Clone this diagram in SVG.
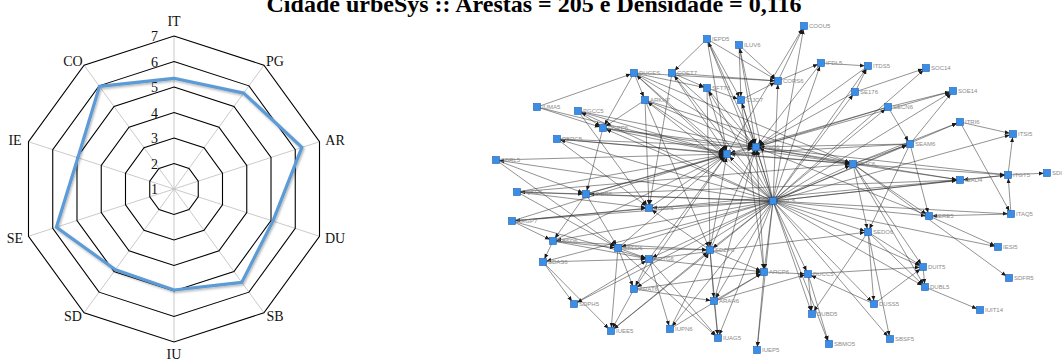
<svg xmlns="http://www.w3.org/2000/svg" width="1062" height="360" viewBox="0 0 1062 360">
<style>
  .ring{fill:none;stroke:#000;stroke-width:1.1}
  .spoke{stroke:#c4c4c4;stroke-width:0.9}
  .ax{font-family:"Liberation Serif",serif;font-size:14px;fill:#111;text-anchor:middle}
  .tick{font-family:"Liberation Serif",serif;font-size:14px;fill:#111;text-anchor:end}
  .title{font-family:"Liberation Serif",serif;font-size:24px;font-weight:bold;fill:#000;text-anchor:middle}
  .edges line{stroke:#2a2a2a;stroke-width:0.6;stroke-opacity:0.85;marker-end:url(#ah)}
  .node rect{fill:#3a8ee8;stroke:#1d5fae;stroke-width:0.6}
  .node text{font-family:"Liberation Sans",Arial,sans-serif;font-size:6px;fill:#8a8a8a}
</style>
<defs>
  <marker id="ah" viewBox="0 0 6 6" markerWidth="5" markerHeight="5" refX="10" refY="3" orient="auto" markerUnits="userSpaceOnUse">
    <path d="M0,0.5 L6,3 L0,5.5 z" fill="#1a1a1a"/>
  </marker>
  <filter id="sh" x="-10%" y="-10%" width="120%" height="120%">
    <feDropShadow dx="1" dy="1.5" stdDeviation="1" flood-color="#000" flood-opacity="0.3"/>
  </filter>
</defs>
<rect width="1062" height="360" fill="#fff"/>

<text class="title" x="534" y="12">Cidade urbeSys :: Arestas = 205 e Densidade = 0,116</text>

<!-- radar chart: 10 axes, scale 1..7 -->
<g id="radar">
  <g id="spokes">
    <line class="spoke" x1="174" y1="189" x2="174" y2="36"/>
    <line class="spoke" x1="174" y1="189" x2="263.93" y2="65.22"/>
    <line class="spoke" x1="174" y1="189" x2="319.51" y2="141.72"/>
    <line class="spoke" x1="174" y1="189" x2="319.51" y2="236.28"/>
    <line class="spoke" x1="174" y1="189" x2="263.93" y2="312.78"/>
    <line class="spoke" x1="174" y1="189" x2="174" y2="342"/>
    <line class="spoke" x1="174" y1="189" x2="84.07" y2="312.78"/>
    <line class="spoke" x1="174" y1="189" x2="28.49" y2="236.28"/>
    <line class="spoke" x1="174" y1="189" x2="28.49" y2="141.72"/>
    <line class="spoke" x1="174" y1="189" x2="84.07" y2="65.22"/>
  </g>
  <g id="rings">
    <polygon class="ring" points="174,163.5 188.99,168.37 198.25,181.12 198.25,196.88 188.99,209.63 174,214.5 159.01,209.63 149.75,196.88 149.75,181.12 159.01,168.37"/>
    <polygon class="ring" points="174,138 203.98,147.74 222.5,173.24 222.5,204.76 203.98,230.26 174,240 144.02,230.26 125.5,204.76 125.5,173.24 144.02,147.74"/>
    <polygon class="ring" points="174,112.5 218.97,127.11 246.76,165.36 246.76,212.64 218.97,250.89 174,265.5 129.03,250.89 101.24,212.64 101.24,165.36 129.03,127.11"/>
    <polygon class="ring" points="174,87 233.95,106.48 271.01,157.48 271.01,220.52 233.95,271.52 174,291 114.05,271.52 76.99,220.52 76.99,157.48 114.05,106.48"/>
    <polygon class="ring" points="174,61.5 248.94,85.85 295.26,149.6 295.26,228.4 248.94,292.15 174,316.5 99.06,292.15 52.74,228.4 52.74,149.6 99.06,85.85"/>
    <polygon class="ring" points="174,36 263.93,65.22 319.51,141.72 319.51,236.28 263.93,312.78 174,342 84.07,312.78 28.49,236.28 28.49,141.72 84.07,65.22"/>
  </g>
  <g id="ticks">
    <text class="tick" x="158" y="41">7</text>
    <text class="tick" x="158" y="66.5">6</text>
    <text class="tick" x="158" y="92">5</text>
    <text class="tick" x="158" y="117.5">4</text>
    <text class="tick" x="158" y="143">3</text>
    <text class="tick" x="158" y="168.5">2</text>
    <text class="tick" x="158" y="194">1</text>
  </g>
  <polygon id="serie" filter="url(#sh)" fill="none" stroke="#5b9bd5" stroke-width="3.2" stroke-linejoin="round"
    points="174,78.3 243.7,93.1 301.9,147.4 272.9,221.1 241.8,282.4 174,290 115.4,269.7 56.4,227.2 77.9,157.8 99.5,86.4"/>
  <g id="axis-labels">
    <text class="ax" x="174" y="25.5">IT</text>
    <text class="ax" x="275" y="66">PG</text>
    <text class="ax" x="335" y="144.5">AR</text>
    <text class="ax" x="335" y="242.5">DU</text>
    <text class="ax" x="275" y="320.7">SB</text>
    <text class="ax" x="174" y="358.5">IU</text>
    <text class="ax" x="73" y="320.7">SD</text>
    <text class="ax" x="15" y="242.5">SE</text>
    <text class="ax" x="15" y="144.5">IE</text>
    <text class="ax" x="73" y="66">CO</text>
  </g>
</g>

<!-- network -->
<g id="connectors" class="edges">
  <!-- hub ITHC5 -->
  <line x1="773" y1="201" x2="804" y2="26"/>
  <line x1="773" y1="201" x2="707" y2="39"/>
  <line x1="773" y1="201" x2="739" y2="45"/>
  <line x1="773" y1="201" x2="821" y2="63"/>
  <line x1="773" y1="201" x2="868" y2="66"/>
  <line x1="773" y1="201" x2="926" y2="68"/>
  <line x1="773" y1="201" x2="634" y2="73"/>
  <line x1="773" y1="201" x2="672" y2="73"/>
  <line x1="773" y1="201" x2="778" y2="81"/>
  <line x1="773" y1="201" x2="707" y2="88"/>
  <line x1="773" y1="201" x2="855" y2="92"/>
  <line x1="773" y1="201" x2="953" y2="91"/>
  <line x1="773" y1="201" x2="645" y2="100"/>
  <line x1="773" y1="201" x2="741" y2="100"/>
  <line x1="773" y1="201" x2="888" y2="107"/>
  <line x1="773" y1="201" x2="578" y2="111"/>
  <line x1="773" y1="201" x2="960" y2="122"/>
  <line x1="773" y1="201" x2="603" y2="128"/>
  <line x1="773" y1="201" x2="1013" y2="134"/>
  <line x1="773" y1="201" x2="557" y2="139"/>
  <line x1="773" y1="201" x2="910" y2="144"/>
  <line x1="773" y1="201" x2="756" y2="147"/>
  <line x1="773" y1="201" x2="727" y2="154"/>
  <line x1="773" y1="201" x2="496" y2="160"/>
  <line x1="773" y1="201" x2="853" y2="164"/>
  <line x1="773" y1="201" x2="1008" y2="175"/>
  <line x1="773" y1="201" x2="960" y2="180"/>
  <line x1="773" y1="201" x2="517" y2="192"/>
  <line x1="773" y1="201" x2="586" y2="194"/>
  <line x1="773" y1="201" x2="649" y2="208"/>
  <line x1="773" y1="201" x2="1011" y2="214"/>
  <line x1="773" y1="201" x2="929" y2="216"/>
  <line x1="773" y1="201" x2="512" y2="221"/>
  <line x1="773" y1="201" x2="868" y2="232"/>
  <line x1="773" y1="201" x2="553" y2="241"/>
  <line x1="773" y1="201" x2="618" y2="248"/>
  <line x1="773" y1="201" x2="998" y2="247"/>
  <line x1="773" y1="201" x2="710" y2="250"/>
  <line x1="773" y1="201" x2="649" y2="259"/>
  <line x1="773" y1="201" x2="923" y2="267"/>
  <line x1="773" y1="201" x2="764" y2="272"/>
  <line x1="773" y1="201" x2="808" y2="274"/>
  <line x1="773" y1="201" x2="925" y2="287"/>
  <line x1="773" y1="201" x2="634" y2="289"/>
  <line x1="773" y1="201" x2="714" y2="301"/>
  <line x1="773" y1="201" x2="874" y2="304"/>
  <line x1="773" y1="201" x2="812" y2="314"/>
  <line x1="773" y1="201" x2="670" y2="329"/>
  <line x1="773" y1="201" x2="611" y2="331"/>
  <line x1="773" y1="201" x2="718" y2="338"/>
  <line x1="773" y1="201" x2="890" y2="339"/>
  <line x1="773" y1="201" x2="829" y2="344"/>
  <line x1="773" y1="201" x2="757" y2="350"/>
  <line x1="773" y1="201" x2="574" y2="304"/>
  <line x1="773" y1="201" x2="543" y2="262"/>
  <!-- into COEE6 -->
  <line x1="634" y1="73" x2="727" y2="154"/>
  <line x1="645" y1="100" x2="727" y2="154"/>
  <line x1="603" y1="128" x2="727" y2="154"/>
  <line x1="578" y1="111" x2="727" y2="154"/>
  <line x1="557" y1="139" x2="727" y2="154"/>
  <line x1="517" y1="192" x2="727" y2="154"/>
  <line x1="586" y1="194" x2="727" y2="154"/>
  <line x1="496" y1="160" x2="727" y2="154"/>
  <line x1="672" y1="73" x2="727" y2="154"/>
  <line x1="707" y1="39" x2="727" y2="154"/>
  <line x1="707" y1="88" x2="727" y2="154"/>
  <line x1="853" y1="164" x2="727" y2="154"/>
  <line x1="910" y1="144" x2="727" y2="154"/>
  <line x1="888" y1="107" x2="727" y2="154"/>
  <line x1="618" y1="248" x2="727" y2="154"/>
  <line x1="649" y1="259" x2="727" y2="154"/>
  <line x1="710" y1="250" x2="727" y2="154"/>
  <line x1="634" y1="289" x2="727" y2="154"/>
  <line x1="649" y1="208" x2="727" y2="154"/>
  <line x1="553" y1="241" x2="727" y2="154"/>
  <line x1="512" y1="221" x2="727" y2="154"/>
  <line x1="537" y1="107" x2="727" y2="154"/>
  <!-- into COIO6 -->
  <line x1="672" y1="73" x2="756" y2="147"/>
  <line x1="707" y1="88" x2="756" y2="147"/>
  <line x1="707" y1="39" x2="756" y2="147"/>
  <line x1="739" y1="45" x2="756" y2="147"/>
  <line x1="645" y1="100" x2="756" y2="147"/>
  <line x1="634" y1="73" x2="756" y2="147"/>
  <line x1="578" y1="111" x2="756" y2="147"/>
  <line x1="603" y1="128" x2="756" y2="147"/>
  <line x1="557" y1="139" x2="756" y2="147"/>
  <line x1="855" y1="92" x2="756" y2="147"/>
  <line x1="868" y1="66" x2="756" y2="147"/>
  <line x1="888" y1="107" x2="756" y2="147"/>
  <line x1="910" y1="144" x2="756" y2="147"/>
  <line x1="853" y1="164" x2="756" y2="147"/>
  <line x1="1008" y1="175" x2="756" y2="147"/>
  <line x1="960" y1="180" x2="756" y2="147"/>
  <line x1="929" y1="216" x2="756" y2="147"/>
  <line x1="714" y1="301" x2="756" y2="147"/>
  <line x1="764" y1="272" x2="756" y2="147"/>
  <line x1="710" y1="250" x2="756" y2="147"/>
  <line x1="586" y1="194" x2="756" y2="147"/>
  <line x1="741" y1="100" x2="756" y2="147"/>
  <line x1="821" y1="63" x2="756" y2="147"/>
  <line x1="953" y1="91" x2="756" y2="147"/>
  <!-- other links -->
  <line x1="537" y1="107" x2="634" y2="73"/>
  <line x1="537" y1="107" x2="603" y2="128"/>
  <line x1="578" y1="111" x2="603" y2="128"/>
  <line x1="578" y1="111" x2="649" y2="208"/>
  <line x1="634" y1="73" x2="603" y2="128"/>
  <line x1="634" y1="73" x2="645" y2="100"/>
  <line x1="634" y1="73" x2="778" y2="81"/>
  <line x1="634" y1="73" x2="707" y2="88"/>
  <line x1="634" y1="73" x2="853" y2="164"/>
  <line x1="645" y1="100" x2="649" y2="208"/>
  <line x1="645" y1="100" x2="603" y2="128"/>
  <line x1="645" y1="100" x2="710" y2="250"/>
  <line x1="645" y1="100" x2="853" y2="164"/>
  <line x1="603" y1="128" x2="586" y2="194"/>
  <line x1="603" y1="128" x2="853" y2="164"/>
  <line x1="557" y1="139" x2="853" y2="164"/>
  <line x1="557" y1="139" x2="649" y2="208"/>
  <line x1="496" y1="160" x2="586" y2="194"/>
  <line x1="496" y1="160" x2="618" y2="248"/>
  <line x1="517" y1="192" x2="586" y2="194"/>
  <line x1="517" y1="192" x2="618" y2="248"/>
  <line x1="517" y1="192" x2="649" y2="208"/>
  <line x1="517" y1="192" x2="853" y2="164"/>
  <line x1="586" y1="194" x2="618" y2="248"/>
  <line x1="586" y1="194" x2="553" y2="241"/>
  <line x1="586" y1="194" x2="960" y2="180"/>
  <line x1="512" y1="221" x2="649" y2="208"/>
  <line x1="512" y1="221" x2="553" y2="241"/>
  <line x1="512" y1="221" x2="649" y2="259"/>
  <line x1="512" y1="221" x2="960" y2="180"/>
  <line x1="553" y1="241" x2="543" y2="262"/>
  <line x1="553" y1="241" x2="649" y2="259"/>
  <line x1="553" y1="241" x2="618" y2="248"/>
  <line x1="553" y1="241" x2="710" y2="250"/>
  <line x1="543" y1="262" x2="574" y2="304"/>
  <line x1="543" y1="262" x2="649" y2="259"/>
  <line x1="543" y1="262" x2="611" y2="331"/>
  <line x1="618" y1="248" x2="649" y2="259"/>
  <line x1="618" y1="248" x2="611" y2="331"/>
  <line x1="618" y1="248" x2="634" y2="289"/>
  <line x1="618" y1="248" x2="710" y2="250"/>
  <line x1="618" y1="248" x2="718" y2="338"/>
  <line x1="649" y1="259" x2="634" y2="289"/>
  <line x1="649" y1="259" x2="670" y2="329"/>
  <line x1="649" y1="259" x2="718" y2="338"/>
  <line x1="649" y1="259" x2="764" y2="272"/>
  <line x1="649" y1="259" x2="868" y2="232"/>
  <line x1="634" y1="289" x2="714" y2="301"/>
  <line x1="634" y1="289" x2="611" y2="331"/>
  <line x1="634" y1="289" x2="764" y2="272"/>
  <line x1="710" y1="250" x2="714" y2="301"/>
  <line x1="710" y1="250" x2="718" y2="338"/>
  <line x1="710" y1="250" x2="764" y2="272"/>
  <line x1="710" y1="250" x2="649" y2="208"/>
  <line x1="714" y1="301" x2="718" y2="338"/>
  <line x1="714" y1="301" x2="764" y2="272"/>
  <line x1="714" y1="301" x2="808" y2="274"/>
  <line x1="764" y1="272" x2="757" y2="350"/>
  <line x1="764" y1="272" x2="808" y2="274"/>
  <line x1="670" y1="329" x2="710" y2="250"/>
  <line x1="670" y1="329" x2="764" y2="272"/>
  <line x1="611" y1="331" x2="710" y2="250"/>
  <line x1="574" y1="304" x2="649" y2="259"/>
  <line x1="808" y1="274" x2="812" y2="314"/>
  <line x1="808" y1="274" x2="829" y2="344"/>
  <line x1="808" y1="274" x2="923" y2="267"/>
  <line x1="874" y1="304" x2="808" y2="274"/>
  <line x1="874" y1="304" x2="923" y2="267"/>
  <line x1="923" y1="267" x2="925" y2="287"/>
  <line x1="925" y1="287" x2="980" y2="310"/>
  <line x1="868" y1="232" x2="874" y2="304"/>
  <line x1="868" y1="232" x2="890" y2="339"/>
  <line x1="868" y1="232" x2="923" y2="267"/>
  <line x1="868" y1="232" x2="925" y2="287"/>
  <line x1="868" y1="232" x2="812" y2="314"/>
  <line x1="929" y1="216" x2="998" y2="247"/>
  <line x1="1011" y1="214" x2="929" y2="216"/>
  <line x1="1011" y1="214" x2="1008" y2="175"/>
  <line x1="1008" y1="175" x2="1013" y2="134"/>
  <line x1="1008" y1="175" x2="1047" y2="173"/>
  <line x1="1008" y1="175" x2="960" y2="180"/>
  <line x1="960" y1="122" x2="1013" y2="134"/>
  <line x1="960" y1="122" x2="1011" y2="214"/>
  <line x1="853" y1="164" x2="960" y2="180"/>
  <line x1="853" y1="164" x2="910" y2="144"/>
  <line x1="853" y1="164" x2="929" y2="216"/>
  <line x1="853" y1="164" x2="868" y2="232"/>
  <line x1="853" y1="164" x2="923" y2="267"/>
  <line x1="853" y1="164" x2="925" y2="287"/>
  <line x1="853" y1="164" x2="1008" y2="175"/>
  <line x1="853" y1="164" x2="960" y2="122"/>
  <line x1="853" y1="164" x2="1009" y2="278"/>
  <line x1="910" y1="144" x2="929" y2="216"/>
  <line x1="910" y1="144" x2="953" y2="91"/>
  <line x1="910" y1="144" x2="868" y2="232"/>
  <line x1="888" y1="107" x2="953" y2="91"/>
  <line x1="888" y1="107" x2="910" y2="144"/>
  <line x1="855" y1="92" x2="926" y2="68"/>
  <line x1="855" y1="92" x2="868" y2="66"/>
  <line x1="821" y1="63" x2="868" y2="66"/>
  <line x1="778" y1="81" x2="821" y2="63"/>
  <line x1="778" y1="81" x2="804" y2="26"/>
  <line x1="727" y1="154" x2="804" y2="26"/>
  <line x1="707" y1="39" x2="672" y2="73"/>
  <line x1="707" y1="39" x2="741" y2="100"/>
  <line x1="707" y1="39" x2="778" y2="81"/>
  <line x1="739" y1="45" x2="741" y2="100"/>
  <line x1="739" y1="45" x2="778" y2="81"/>
  <line x1="672" y1="73" x2="707" y2="88"/>
  <line x1="672" y1="73" x2="778" y2="81"/>
  <line x1="672" y1="73" x2="649" y2="208"/>
  <line x1="707" y1="88" x2="741" y2="100"/>
  <line x1="707" y1="88" x2="710" y2="250"/>
  <line x1="741" y1="100" x2="778" y2="81"/>
  <line x1="741" y1="100" x2="764" y2="272"/>
</g>

<g id="nodes">
  <g id="n-COOU5" class="node"><rect x="800.5" y="22.5" width="7" height="7"/><text x="809" y="28">COOU5</text></g>
  <g id="n-IEPD5" class="node"><rect x="703.5" y="35.5" width="7" height="7"/><text x="712" y="41">IEPD5</text></g>
  <g id="n-ILUV6" class="node"><rect x="735.5" y="41.5" width="7" height="7"/><text x="744" y="47">ILUV6</text></g>
  <g id="n-IFDL5" class="node"><rect x="817.5" y="59.5" width="7" height="7"/><text x="826" y="65">IFDL5</text></g>
  <g id="n-ITDS5" class="node"><rect x="864.5" y="62.5" width="7" height="7"/><text x="873" y="68">ITDS5</text></g>
  <g id="n-SOC14" class="node"><rect x="922.5" y="64.5" width="7" height="7"/><text x="931" y="70">SOC14</text></g>
  <g id="n-DUGES" class="node"><rect x="630.5" y="69.5" width="7" height="7"/><text x="639" y="75">DUGES</text></g>
  <g id="n-COET7" class="node"><rect x="668.5" y="69.5" width="7" height="7"/><text x="677" y="75">COET7</text></g>
  <g id="n-CORS6" class="node"><rect x="774.5" y="77.5" width="7" height="7"/><text x="783" y="83">CORS6</text></g>
  <g id="n-SFTT6" class="node"><rect x="703.5" y="84.5" width="7" height="7"/><text x="712" y="90">SFTT6</text></g>
  <g id="n-SE176" class="node"><rect x="851.5" y="88.5" width="7" height="7"/><text x="860" y="94">SE176</text></g>
  <g id="n-SOE14" class="node"><rect x="949.5" y="87.5" width="7" height="7"/><text x="958" y="93">SOE14</text></g>
  <g id="n-ARKH7" class="node"><rect x="641.5" y="96.5" width="7" height="7"/><text x="650" y="102">ARKH7</text></g>
  <g id="n-CIJO7" class="node"><rect x="737.5" y="96.5" width="7" height="7"/><text x="746" y="102">CIJO7</text></g>
  <g id="n-IUMA5" class="node"><rect x="533.5" y="103.5" width="7" height="7"/><text x="542" y="109">IUMA5</text></g>
  <g id="n-SECN6" class="node"><rect x="884.5" y="103.5" width="7" height="7"/><text x="893" y="109">SECN6</text></g>
  <g id="n-PGCC5" class="node"><rect x="574.5" y="107.5" width="7" height="7"/><text x="583" y="113">PGCC5</text></g>
  <g id="n-ITRI6" class="node"><rect x="956.5" y="118.5" width="7" height="7"/><text x="965" y="124">ITRI6</text></g>
  <g id="n-PGPP6" class="node"><rect x="599.5" y="124.5" width="7" height="7"/><text x="608" y="130">PGPP6</text></g>
  <g id="n-ITSI5" class="node"><rect x="1009.5" y="130.5" width="7" height="7"/><text x="1018" y="136">ITSI5</text></g>
  <g id="n-PBRC5" class="node"><rect x="553.5" y="135.5" width="7" height="7"/><text x="562" y="141">PBRC5</text></g>
  <g id="n-SEAM6" class="node"><rect x="906.5" y="140.5" width="7" height="7"/><text x="915" y="146">SEAM6</text></g>
  <g id="n-COIO6" class="node"><rect x="752.5" y="143.5" width="7" height="7"/><text x="761" y="149">COIO6</text></g>
  <g id="n-COEE6" class="node"><rect x="723.5" y="150.5" width="7" height="7"/><text x="732" y="156">COEE6</text></g>
  <g id="n-SBRL5" class="node"><rect x="492.5" y="156.5" width="7" height="7"/><text x="501" y="162">SBRL5</text></g>
  <g id="n-ITRC6" class="node"><rect x="849.5" y="160.5" width="7" height="7"/><text x="858" y="166">ITRC6</text></g>
  <g id="n-ITGT5" class="node"><rect x="1004.5" y="171.5" width="7" height="7"/><text x="1013" y="177">ITGT5</text></g>
  <g id="n-SDI14" class="node"><rect x="1043.5" y="169.5" width="7" height="7"/><text x="1052" y="175">SDI14</text></g>
  <g id="n-IEAD4" class="node"><rect x="956.5" y="176.5" width="7" height="7"/><text x="965" y="182">IEAD4</text></g>
  <g id="n-PQSD6" class="node"><rect x="513.5" y="188.5" width="7" height="7"/><text x="522" y="194">PQSD6</text></g>
  <g id="n-PGOR6" class="node"><rect x="582.5" y="190.5" width="7" height="7"/><text x="591" y="196">PGOR6</text></g>
  <g id="n-ITHC5" class="node"><rect x="769.5" y="197.5" width="7" height="7"/><text x="778" y="203">ITHC5</text></g>
  <g id="n-PGFP6" class="node"><rect x="645.5" y="204.5" width="7" height="7"/><text x="654" y="210">PGFP6</text></g>
  <g id="n-ITAQ5" class="node"><rect x="1007.5" y="210.5" width="7" height="7"/><text x="1016" y="216">ITAQ5</text></g>
  <g id="n-SERE5" class="node"><rect x="925.5" y="212.5" width="7" height="7"/><text x="934" y="218">SERE5</text></g>
  <g id="n-ARGP7" class="node"><rect x="508.5" y="217.5" width="7" height="7"/><text x="517" y="223">ARGP7</text></g>
  <g id="n-SEDO6" class="node"><rect x="864.5" y="228.5" width="7" height="7"/><text x="873" y="234">SEDO6</text></g>
  <g id="n-SBSD6" class="node"><rect x="549.5" y="237.5" width="7" height="7"/><text x="558" y="243">SBSD6</text></g>
  <g id="n-SBED6" class="node"><rect x="614.5" y="244.5" width="7" height="7"/><text x="623" y="250">SBED6</text></g>
  <g id="n-IESI5" class="node"><rect x="994.5" y="243.5" width="7" height="7"/><text x="1003" y="249">IESI5</text></g>
  <g id="n-SDZP6" class="node"><rect x="706.5" y="246.5" width="7" height="7"/><text x="715" y="252">SDZP6</text></g>
  <g id="n-ARTG6" class="node"><rect x="645.5" y="255.5" width="7" height="7"/><text x="654" y="261">ARTG6</text></g>
  <g id="n-SDAS6" class="node"><rect x="539.5" y="258.5" width="7" height="7"/><text x="548" y="264">SDAS6</text></g>
  <g id="n-DUIT5" class="node"><rect x="919.5" y="263.5" width="7" height="7"/><text x="928" y="269">DUIT5</text></g>
  <g id="n-ARCP6" class="node"><rect x="760.5" y="268.5" width="7" height="7"/><text x="769" y="274">ARCP6</text></g>
  <g id="n-DUCC5" class="node"><rect x="804.5" y="270.5" width="7" height="7"/><text x="813" y="276">DUCC5</text></g>
  <g id="n-SDFR5" class="node"><rect x="1005.5" y="274.5" width="7" height="7"/><text x="1014" y="280">SDFR5</text></g>
  <g id="n-DUBL5" class="node"><rect x="921.5" y="283.5" width="7" height="7"/><text x="930" y="289">DUBL5</text></g>
  <g id="n-ARAT6" class="node"><rect x="630.5" y="285.5" width="7" height="7"/><text x="639" y="291">ARAT6</text></g>
  <g id="n-ARAH6" class="node"><rect x="710.5" y="297.5" width="7" height="7"/><text x="719" y="303">ARAH6</text></g>
  <g id="n-SDPH5" class="node"><rect x="570.5" y="300.5" width="7" height="7"/><text x="579" y="306">SDPH5</text></g>
  <g id="n-DUSS5" class="node"><rect x="870.5" y="300.5" width="7" height="7"/><text x="879" y="306">DUSS5</text></g>
  <g id="n-IUIT14" class="node"><rect x="976.5" y="306.5" width="7" height="7"/><text x="985" y="312">IUIT14</text></g>
  <g id="n-DUBD5" class="node"><rect x="808.5" y="310.5" width="7" height="7"/><text x="817" y="316">DUBD5</text></g>
  <g id="n-IUPN6" class="node"><rect x="666.5" y="325.5" width="7" height="7"/><text x="675" y="331">IUPN6</text></g>
  <g id="n-IUEE5" class="node"><rect x="607.5" y="327.5" width="7" height="7"/><text x="616" y="333">IUEE5</text></g>
  <g id="n-IUAG5" class="node"><rect x="714.5" y="334.5" width="7" height="7"/><text x="723" y="340">IUAG5</text></g>
  <g id="n-SBSF5" class="node"><rect x="886.5" y="335.5" width="7" height="7"/><text x="895" y="341">SBSF5</text></g>
  <g id="n-SBMO5" class="node"><rect x="825.5" y="340.5" width="7" height="7"/><text x="834" y="346">SBMO5</text></g>
  <g id="n-IUEP5" class="node"><rect x="753.5" y="346.5" width="7" height="7"/><text x="762" y="352">IUEP5</text></g>
</g>
</svg>
